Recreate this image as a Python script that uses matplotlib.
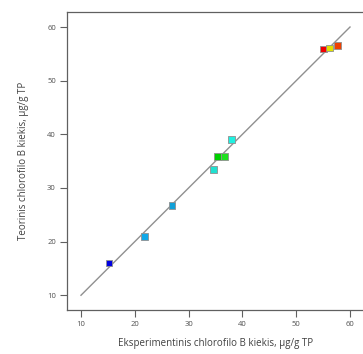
import matplotlib
matplotlib.use("Agg")
import matplotlib.pyplot as plt

# Data
experimental = [15.2, 21.8, 26.9, 34.6, 35.3, 36.6, 37.9, 55.0, 56.2, 57.7]
predicted = [16.0, 20.9, 26.7, 33.5, 35.8, 35.8, 39.05, 55.9, 56.1, 56.6]
colors = ["#0000e0", "#10a8e8", "#10a0d8", "#20e0d0", "#00d000", "#20e020",
          "#20f0e0", "#f00000", "#e0e000", "#f04000"]
line_x = [10, 60]
line_y = [10, 60]
ticks = [10, 20, 30, 40, 50, 60]

plt.rcParams['font.family'] = ['Open Sans', 'DejaVu Sans']
fig = plt.figure(figsize=(3.63, 3.54), dpi=100)
ax = fig.add_axes([67/363, 1-310/354, (364-67)/363, (310-12)/354])
ax.plot(line_x, line_y, color="#909090", lw=1.0, zorder=1)
ax.scatter(experimental, predicted, marker="s", s=24, c=colors,
           edgecolors="#909090", linewidths=0.6, zorder=2)
ax.set_xlim(7.4, 62.6)
ax.set_ylim(7.25, 62.8)
ax.set_xticks(ticks)
ax.set_yticks(ticks)
ax.tick_params(direction="out", length=5, width=0.8, color="#606060",
               labelsize=5.5, labelcolor="#505050", pad=3)
for s in ax.spines.values():
    s.set_color("#606060")
    s.set_linewidth(0.9)
ax.set_xlabel("Eksperimentinis chlorofilo B kiekis, µg/g TP", fontsize=7,
              color="#404040", labelpad=7)
ax.set_ylabel("Teorinis chlorofilo B kiekis, µg/g TP", fontsize=7,
              color="#404040", labelpad=13)
fig.savefig("out.png", dpi=100)
